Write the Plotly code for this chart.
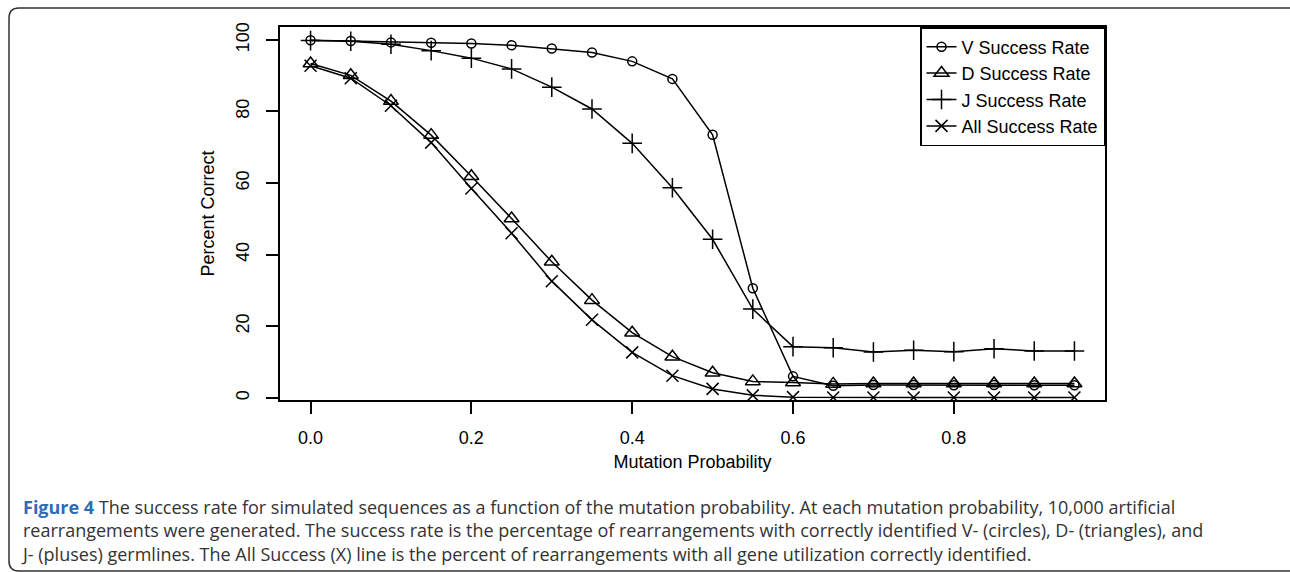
import plotly.graph_objects as go

mutation_prob = [0.0, 0.05, 0.10, 0.15, 0.20, 0.25, 0.30, 0.35, 0.40, 0.45,
                 0.50, 0.55, 0.60, 0.65, 0.70, 0.75, 0.80, 0.85, 0.90, 0.95]

v_success = [99.9, 99.7, 99.3, 99.2, 99.0, 98.5, 97.6, 96.5, 94.0, 89.1,
             73.5, 30.6, 6.0, 3.4, 3.6, 3.6, 3.5, 3.6, 3.5, 3.5]
d_success = [93.4, 90.1, 82.9, 73.4, 61.9, 50.1, 38.0, 27.3, 18.2, 11.5,
             7.0, 4.6, 4.3, 3.9, 4.0, 4.0, 4.0, 4.0, 4.0, 4.0]
j_success = [99.8, 99.6, 98.8, 97.0, 94.9, 91.9, 86.8, 80.7, 71.1, 58.7,
             44.3, 24.8, 14.3, 14.0, 12.8, 13.3, 12.9, 13.7, 13.1, 13.1]
all_success = [92.8, 89.3, 81.6, 71.3, 58.5, 46.0, 32.6, 21.8, 12.7, 6.2,
               2.5, 0.7, 0.2, 0.1, 0.1, 0.1, 0.1, 0.1, 0.1, 0.1]

series_names = ["V Success Rate", "D Success Rate", "J Success Rate", "All Success Rate"]
series_values = [v_success, d_success, j_success, all_success]
series_symbols = ["circle-open", "triangle-up-open", "cross-thin-open", "x-thin-open"]
series_sizes = [9, 13, 14, 12]

x_ticks = [0.0, 0.2, 0.4, 0.6, 0.8]
x_tick_labels = ["0.0", "0.2", "0.4", "0.6", "0.8"]
y_ticks = [0, 20, 40, 60, 80, 100]
y_tick_labels = ["0", "20", "40", "60", "80", "100"]

caption_lines = [
    "<b><span style='color:#2e6db4'>Figure 4</span></b> The success rate for simulated sequences as a "
    "function of the mutation probability. At each mutation probability, 10,000 artificial",
    "rearrangements were generated. The success rate is the percentage of rearrangements with correctly "
    "identified V- (circles), D- (triangles), and",
    "J- (pluses) germlines. The All Success (X) line is the percent of rearrangements with all gene "
    "utilization correctly identified.",
]

W, H = 1290, 572
L, R, T, B = 280, 1105, 27, 400

fig = go.Figure()
for name, vals, sym, sz in zip(series_names, series_values, series_symbols, series_sizes):
    fig.add_trace(go.Scatter(
        x=mutation_prob, y=vals, name=name, mode="lines+markers",
        line=dict(color="black", width=1.5),
        marker=dict(symbol=sym, size=sz, color="black", line=dict(color="black", width=1.5)),
    ))

axis_font = dict(family="Liberation Sans, Arial, sans-serif", size=18, color="black")

fig.update_layout(
    width=W, height=H,
    margin=dict(l=L, r=W - R, t=T, b=H - B),
    paper_bgcolor="white", plot_bgcolor="white",
    font=axis_font,
    showlegend=True,
    legend=dict(
        x=1, y=1, xanchor="right", yanchor="top",
        bordercolor="black", borderwidth=1.5, bgcolor="white",
        font=dict(family="Liberation Sans, Arial, sans-serif", size=18, color="black"),
        tracegroupgap=0, itemwidth=30,
    ),
    xaxis=dict(
        range=[-0.038, 0.988], tickvals=x_ticks, ticktext=x_tick_labels,
        showgrid=False, zeroline=False, showline=True, mirror=True,
        linecolor="black", linewidth=1.5, ticks="outside", ticklen=12,
        tickwidth=1.5, tickcolor="black", ticklabelstandoff=9,
        title=dict(text="Mutation Probability", standoff=8, font=axis_font),
    ),
    yaxis=dict(
        range=[-0.6, 103.6], tickvals=y_ticks, ticktext=y_tick_labels,
        showgrid=False, zeroline=False, showline=True, mirror=True,
        linecolor="black", linewidth=1.5, ticks="outside", ticklen=12,
        tickwidth=1.5, tickcolor="black", tickangle=-90, ticklabelstandoff=10,
        title=dict(text="Percent Correct", standoff=14, font=axis_font),
    ),
)

def px(xp):
    return (xp - L) / (R - L)

def py(yp):
    return (B - yp) / (B - T)

fl, ft, fb, fr, rad = 9, 8, 571, 1300, 10
path = (f"M {px(fr)},{py(ft)} L {px(fl + rad)},{py(ft)} Q {px(fl)},{py(ft)} {px(fl)},{py(ft + rad)} "
        f"L {px(fl)},{py(fb - rad)} Q {px(fl)},{py(fb)} {px(fl + rad)},{py(fb)} L {px(fr)},{py(fb)}")
fig.add_shape(type="path", path=path, xref="paper", yref="paper",
              line=dict(color="#333333", width=1.5), layer="above")

fig.add_annotation(
    text="<br>".join(caption_lines), xref="paper", yref="paper",
    x=px(19), y=py(530), xanchor="left", yanchor="middle", align="left",
    showarrow=False,
    font=dict(family="Open Sans, sans-serif", size=18, color="#333333"),
)

fig.write_html("out.html")
